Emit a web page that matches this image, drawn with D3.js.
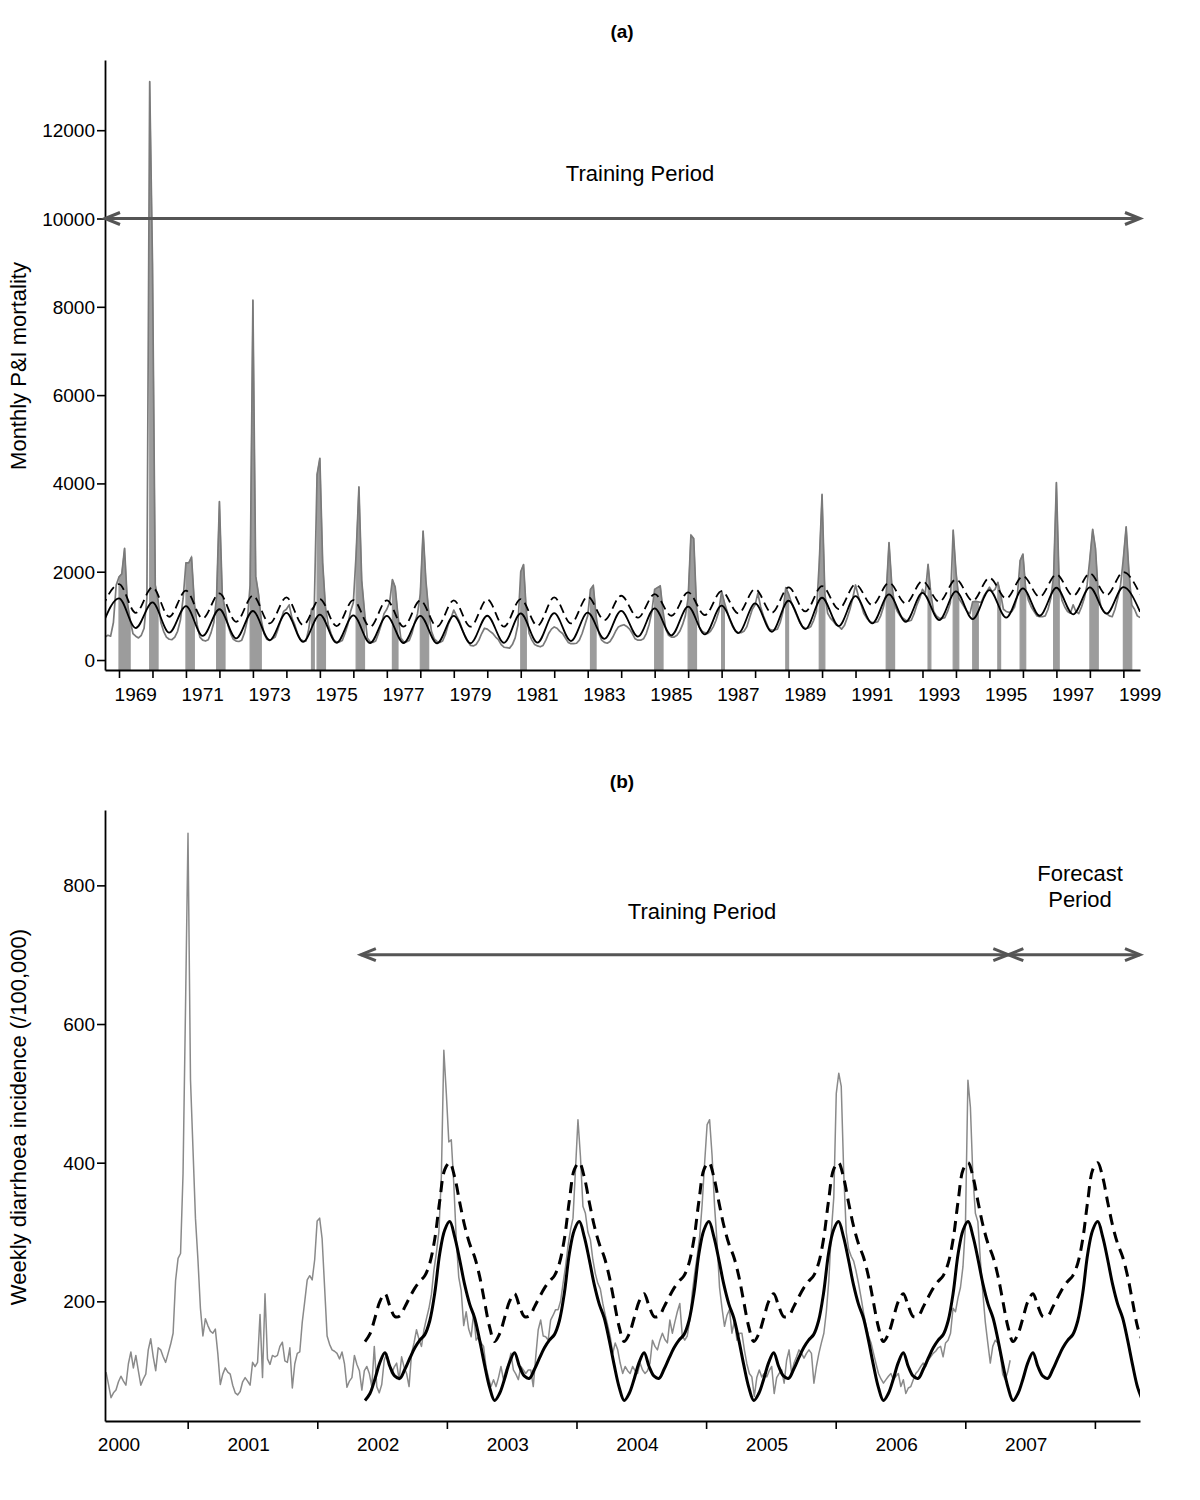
<!DOCTYPE html>
<html><head><meta charset="utf-8">
<script src="https://cdn.jsdelivr.net/npm/d3@7"></script>
<style>body{margin:0;background:#fff} svg text{font-family:"Liberation Sans",Arial,Helvetica,sans-serif;fill:#000}</style>
</head><body><svg id="c" width="1200" height="1500"></svg>
<script>
// ---------------- Panel (a): monthly P&I mortality ----------------
const piStart = "1968-08";
const piMonthly = [
 520,560,540,850,1700,1880,1950,2530,1300,900,600,540,      // 1968-69
 500,560,720,1400,13100,9000,1700,1350,850,650,520,470,     // 1969-70
 460,520,650,900,1400,2200,2200,2330,1300,800,520,450,      // 1970-71
 430,460,620,850,1450,3590,1500,1150,800,600,470,430,       // 1971-72
 420,450,620,900,1700,8150,1900,1500,900,600,470,440,       // 1972-73
 480,520,700,900,1100,1150,1250,950,800,600,470,430,        // 1973-74
 430,700,1150,1200,4200,4570,2200,1200,800,600,450,410,     // 1974-75
 410,440,600,800,1100,1300,2400,3920,1800,1100,500,420,     // 1975-76
 400,430,600,800,1050,1150,1300,1820,1650,1000,500,420,     // 1976-77
 410,440,600,850,1050,1500,2920,1800,1100,650,480,420,      // 1977-78
 400,430,580,800,950,1130,1000,880,700,550,430,330,         // 1978-79
 320,350,450,600,720,700,650,600,520,460,350,290,           // 1979-80
 280,270,350,500,800,2000,2160,1100,600,450,350,320,        // 1980-81
 300,330,450,600,700,750,720,650,600,500,400,370,           // 1981-82
 370,380,450,600,800,1000,1600,1690,1000,600,450,400,       // 1982-83
 380,420,520,650,750,780,800,760,700,600,480,450,           // 1983-84
 450,480,600,800,1100,1600,1640,1680,1100,700,560,520,      // 1984-85
 520,560,650,800,1000,1400,2830,2750,1200,750,650,620,      // 1985-86
 600,650,750,900,1100,1560,1300,1100,900,750,650,620,       // 1986-87
 620,650,750,950,1150,1250,1515,1200,1000,850,700,680,      // 1987-88
 680,700,850,1100,1640,1500,1300,1150,1000,850,760,720,     // 1988-89
 720,760,900,1100,2200,3750,1500,1060,950,880,800,760,      // 1989-90
 700,780,950,1150,1400,1700,1450,1250,1050,950,880,850,     // 1990-91
 850,870,1000,1200,1500,2660,1700,1250,1100,1000,950,900,   // 1991-92
 880,900,1050,1250,1400,1600,1500,2165,1500,1100,1000,950,  // 1992-93
 940,960,1100,1300,2940,2000,1400,1300,1200,1100,1050,1320, // 1993-94
 1330,1320,1300,1450,1550,1650,1550,1600,1760,1500,1150,1100, // 1994-95
 1080,1100,1200,1450,2250,2400,1600,1350,1200,1100,1000,980,  // 1995-96
 980,1000,1150,1400,1900,4020,1700,1350,1200,1100,1060,1250,  // 1996-97
 1100,1050,1200,1400,1700,2300,2960,2530,1500,1200,1100,1050, // 1997-98
 1000,980,1150,1400,1700,2300,3016,2000,1250,1150,1000,960    // 1998-99
];
// seasonal baseline: January peaks (1969..1999) and July troughs (1968..1999)
const piBaselineJan = [1396,1305,1220,1150,1110,1070,1030,1010,1000,1000,1000,1003,1056,1060,1072,1115,1170,1210,1230,1282,1342,1410,1448,1487,1523,1554,1584,1622,1637,1645,1650];
const piBaselineJul = [790,725,620,545,490,450,410,390,385,385,380,380,390,395,430,480,530,560,580,610,640,700,770,830,867,905,928,958,1003,1035,1050,1093];
const piThresholdJan = [1720,1645,1570,1508,1456,1418,1380,1357,1350,1350,1350,1373,1380,1418,1433,1456,1493,1531,1560,1606,1644,1674,1712,1750,1787,1825,1862,1900,1938,1960,1990];
const piThresholdJul = [1200,1070,980,943,867,830,792,770,755,755,755,755,755,778,830,905,958,1003,1018,1056,1070,1100,1154,1244,1282,1320,1342,1395,1433,1456,1470,1490];
const piEpidemics = [
 ["1969-01","1969-05"],["1969-12","1970-03"],["1971-01","1971-04"],["1971-12","1972-03"],
 ["1972-12","1973-04"],["1974-10","1974-11"],["1974-12","1975-03"],["1976-02","1976-05"],
 ["1977-03","1977-05"],["1978-01","1978-04"],["1981-01","1981-03"],["1983-02","1983-04"],
 ["1985-01","1985-04"],["1986-01","1986-04"],["1987-01","1987-02"],["1988-12","1989-01"],
 ["1989-12","1990-02"],["1991-12","1992-03"],["1993-03","1993-04"],["1993-12","1994-02"],
 ["1994-07","1994-09"],["1995-04","1995-05"],["1995-12","1996-02"],["1996-12","1997-02"],
 ["1998-01","1998-04"],["1999-01","1999-04"]
];
const piYTicks = [0,2000,4000,6000,8000,10000,12000];
const piYearTicks = [1969,1970,1971,1972,1973,1974,1975,1976,1977,1978,1979,1980,1981,1982,1983,1984,1985,1986,1987,1988,1989,1990,1991,1992,1993,1994,1995,1996,1997,1998,1999];
const piYearLabels = [1969,1971,1973,1975,1977,1979,1981,1983,1985,1987,1989,1991,1993,1995,1997,1999];
const piTrainingArrow = {from: 1968.582, to: 1999.497, level: 10000};

// ---------------- Panel (b): weekly diarrhoea incidence ----------------
const diaStart = 1999.9;            // first week (decimal year)
const diaStepWeeks = 7/365.25;
const diaWeekly = [
 98,80,61,68,72,84,92,85,79,110, 127,104,122,100,79,88,95,130,146,120,
 100,133,130,120,112,125,138,154,230,262, 269,384,624,875,520,420,320,260,190,150,
 175,165,157,154,160,125,80,95,104,98, 95,79,68,65,70,84,90,85,79,112,
 106,112,181,90,211,117,109,122,120,122, 135,141,114,112,133,75,110,125,127,170,
 200,231,237,231,260,316,320,290,220,150, 138,130,128,125,117,127,110,76,85,90,
 122,109,100,
 72,100,106,96,77,135,77,68,80,115, 125,110,96,105,111,87,120,105,96,77,
 125,140,159,145,135,159,175,190,210,245, 270,300,380,562,500,430,433,370,290,235,
 215,165,185,160,149,183,144,149,140,135, 105,90,77,87,77,90,106,87,101,110,
 125,101,95,87,106,101,96,101,101,77, 120,159,173,150,149,144,173,180,188,188,
 200,226,250,280,303,320,390,462,409,337, 327,300,289,260,240,226,218,197,180,165,
 149,125,140,130,111,96,106,100,96,106, 100,96,111,101,96,100,111,144,135,130,
 144,154,145,140,173,154,170,185,197,150, 144,150,173,212,240,265,293,340,400,455,
 462,410,337,285,220,190,164,180,188,154, 173,144,154,
 154,130,110,96,91,63,90,101,91,96, 91,100,106,67,90,96,101,82,115,130,
 96,111,120,130,125,118,125,130,125,82, 106,125,140,154,185,230,300,350,500,529,
 510,385,300,275,265,258,243,225,205,183, 165,150,140,125,110,96,88,82,87,92,
 96,87,92,96,77,87,67,75,77,87, 96,100,106,111,106,115,120,125,128,133,
 135,120,140,144,154,190,185,205,220,250, 310,519,480,380,327,315,260,212,170,140,
 111,135,144,140,125,95,87,98,115
];
const diaFitStart = 2001.898;       // first fortnight of fitted curves
const diaFitStep = 1/26;
const diaBaseline = [
 57,67,88,112,126,106,92,89,102,118,133,144,152,172,212,269,303,315,293,260,224,196,176,144,108,76,
 57,67,88,112,126,106,92,89,102,118,133,144,152,172,212,269,303,315,293,260,224,196,176,144,108,76,
 57,67,88,112,126,106,92,89,102,118,133,144,152,172,212,269,303,315,293,260,224,196,176,144,108,76,
 57,67,88,112,126,106,92,89,102,118,133,144,152,172,212,269,303,315,293,260,224,196,176,144,108,76,
 57,67,88,112,126,106,92,89,102,118,133,144,152,172,212,269,303,315,293,260,224,196,176,144,108,76,
 57,67,88,112,126,106,92,89,102,118,133,144,152,172,212,269,303,315,293,260,224,196,176,144,108,76,
 57
];
const diaThreshold = [
 142,153,176,200,211,193,178,179,192,206,219,229,237,255,290,345,390,400,379,343,309,283,264,236,199,163,
 142,153,176,200,211,193,178,179,192,206,219,229,237,255,290,345,390,400,379,343,309,283,264,236,199,163,
 142,153,176,200,211,193,178,179,192,206,219,229,237,255,290,345,390,400,379,343,309,283,264,236,199,163,
 142,153,176,200,211,193,178,179,192,206,219,229,237,255,290,345,390,400,379,343,309,283,264,236,199,163,
 142,153,176,200,211,193,178,179,192,206,219,229,237,255,290,345,390,400,379,343,309,283,264,236,199,163,
 142,153,176,200,211,193,178,179,192,206,219,229,237,255,290,345,390,400,379,343,309,283,264,236,199,163,
 142
];
const diaYTicks = [200,400,600,800];
const diaSeasonTicks = [2000.53,2001.53,2002.53,2003.53,2004.53,2005.53,2006.53,2007.53];
const diaYearLabels = [2000,2001,2002,2003,2004,2005,2006,2007];
const diaTrainingArrow = {from: 2001.866, to: 2006.862, level: 700};
const diaForecastArrow = {from: 2006.862, to: 2007.878, level: 700};

// ---------------- drawing ----------------
const svg = d3.select("#c");
const monthT = s => { const [y,m] = s.split("-").map(Number); return y + (m-1)/12; };
const ARROW = "#555555";

function styleAxis(g){
  g.select(".domain").attr("stroke","#000").attr("stroke-width",1.8);
  g.selectAll(".tick line").attr("stroke","#000").attr("stroke-width",1.6);
  g.selectAll(".tick text").remove();
}
function drawArrow(g, x1, x2, y){
  g.append("line").attr("x1",x1).attr("x2",x2).attr("y1",y).attr("y2",y)
    .attr("stroke",ARROW).attr("stroke-width",3);
  const hl = 15, hw = 6;
  g.append("path").attr("d",`M${x1+hl},${y-hw}L${x1},${y}L${x1+hl},${y+hw}`)
    .attr("fill","none").attr("stroke",ARROW).attr("stroke-width",3);
  g.append("path").attr("d",`M${x2-hl},${y-hw}L${x2},${y}L${x2-hl},${y+hw}`)
    .attr("fill","none").attr("stroke",ARROW).attr("stroke-width",3);
}

// ----- Panel A -----
const xA = d3.scaleLinear().domain([1968.582, 1999.497]).range([105, 1140]);
const yA = d3.scaleLinear().domain([-226, 13590]).range([670, 60]);
const t0A = monthT(piStart);
const obsA = piMonthly.map((v,i)=>({t: t0A + i/12, v}));

svg.append("defs").html(
  '<clipPath id="clipA"><rect x="105" y="55" width="1035" height="615"/></clipPath>'+
  '<clipPath id="clipB"><rect x="105" y="805" width="1035" height="616"/></clipPath>');

const gA = svg.append("g");
const plotA = gA.append("g").attr("clip-path","url(#clipA)");

const areaA = d3.area().x(d=>xA(d.t)).y0(yA.range()[0]).y1(d=>yA(d.v));
piEpidemics.forEach(([s,e])=>{
  const ts = monthT(s)-1e-6, te = monthT(e)+1e-6;
  const seg = obsA.filter(d=>d.t>=ts && d.t<=te);
  plotA.append("path").datum(seg).attr("d",areaA)
    .attr("fill","#9c9c9c").attr("stroke","#9c9c9c").attr("stroke-width",1.2);
});

const lineA = d3.line().x(d=>xA(d.t)).y(d=>yA(d.v));
plotA.append("path").datum(obsA).attr("d",lineA)
  .attr("fill","none").attr("stroke","#7a7a7a").attr("stroke-width",1.7).attr("stroke-linejoin","round");

function seasonalPoints(janVals, julVals, firstJan, firstJul){
  const pts = [];
  julVals.forEach((v,i)=>pts.push({t: firstJul + i + 0.5, v}));
  janVals.forEach((v,i)=>pts.push({t: firstJan + i, v}));
  return pts.sort((a,b)=>a.t-b.t);
}
const baseA = seasonalPoints(piBaselineJan, piBaselineJul, 1969, 1968);
const thrA = seasonalPoints(piThresholdJan, piThresholdJul, 1969, 1968);
const smoothA = d3.line().x(d=>xA(d.t)).y(d=>yA(d.v)).curve(d3.curveMonotoneX);
plotA.append("path").datum(baseA).attr("d",smoothA)
  .attr("fill","none").attr("stroke","#000").attr("stroke-width",1.8);
plotA.append("path").datum(thrA).attr("d",smoothA)
  .attr("fill","none").attr("stroke","#000").attr("stroke-width",1.8).attr("stroke-dasharray","9,5");

// axes A
const axYA = gA.append("g").attr("transform","translate(105,0)")
  .call(d3.axisLeft(yA).tickValues(piYTicks).tickSize(8).tickSizeOuter(0));
styleAxis(axYA);
piYTicks.forEach(v=>gA.append("text").attr("x",95).attr("y",yA(v)+7)
  .attr("text-anchor","end").attr("font-size",19).text(v));
const axXA = gA.append("g").attr("transform","translate(0,670)")
  .call(d3.axisBottom(xA).tickValues(piYearTicks).tickSize(8).tickSizeOuter(0));
styleAxis(axXA);
piYearLabels.forEach(y=>gA.append("text").attr("x",xA(y+0.5)).attr("y",701)
  .attr("text-anchor","middle").attr("font-size",19).text(y));

drawArrow(gA, xA(piTrainingArrow.from), xA(piTrainingArrow.to), yA(piTrainingArrow.level));
gA.append("text").attr("x",640).attr("y",181).attr("text-anchor","middle")
  .attr("font-size",22).text("Training Period");
gA.append("text").attr("x",622).attr("y",38).attr("text-anchor","middle")
  .attr("font-size",19).attr("font-weight","bold").text("(a)");
gA.append("text").attr("transform","translate(26,366) rotate(-90)")
  .attr("text-anchor","middle").attr("font-size",22).text("Monthly P&I mortality");

// ----- Panel B -----
const xB = d3.scaleLinear().domain([1999.892, 2007.878]).range([105, 1140]);
const yB = d3.scaleLinear().domain([27.4, 908.7]).range([1421, 810]);
const gB = svg.append("g");
const plotB = gB.append("g").attr("clip-path","url(#clipB)");

const obsB = diaWeekly.map((v,i)=>({t: diaStart + i*diaStepWeeks, v}));
const lineB = d3.line().x(d=>xB(d.t)).y(d=>yB(d.v));
plotB.append("path").datum(obsB).attr("d",lineB)
  .attr("fill","none").attr("stroke","#8a8a8a").attr("stroke-width",1.5).attr("stroke-linejoin","round");

const baseB = diaBaseline.map((v,i)=>({t: diaFitStart + i*diaFitStep, v}));
const thrB = diaThreshold.map((v,i)=>({t: diaFitStart + i*diaFitStep, v}));
const smoothB = d3.line().x(d=>xB(d.t)).y(d=>yB(d.v)).curve(d3.curveCatmullRom);
plotB.append("path").datum(thrB).attr("d",smoothB)
  .attr("fill","none").attr("stroke","#000").attr("stroke-width",3).attr("stroke-dasharray","11,7");
plotB.append("path").datum(baseB).attr("d",smoothB)
  .attr("fill","none").attr("stroke","#000").attr("stroke-width",3);

const axYB = gB.append("g").attr("transform","translate(105,0)")
  .call(d3.axisLeft(yB).tickValues(diaYTicks).tickSize(8).tickSizeOuter(0));
styleAxis(axYB);
diaYTicks.forEach(v=>gB.append("text").attr("x",95).attr("y",yB(v)+7)
  .attr("text-anchor","end").attr("font-size",19).text(v));
const axXB = gB.append("g").attr("transform","translate(0,1421)")
  .call(d3.axisBottom(xB).tickValues(diaSeasonTicks).tickSize(8).tickSizeOuter(0));
styleAxis(axXB);
diaYearLabels.forEach(y=>gB.append("text").attr("x",xB(y)).attr("y",1451)
  .attr("text-anchor","middle").attr("font-size",19).text(y));

drawArrow(gB, xB(diaTrainingArrow.from), xB(diaTrainingArrow.to), yB(diaTrainingArrow.level));
drawArrow(gB, xB(diaForecastArrow.from), xB(diaForecastArrow.to), yB(diaForecastArrow.level));
gB.append("text").attr("x",702).attr("y",919).attr("text-anchor","middle")
  .attr("font-size",22).text("Training Period");
gB.append("text").attr("x",1080).attr("y",881).attr("text-anchor","middle")
  .attr("font-size",22).text("Forecast");
gB.append("text").attr("x",1080).attr("y",907).attr("text-anchor","middle")
  .attr("font-size",22).text("Period");
gB.append("text").attr("x",622).attr("y",788).attr("text-anchor","middle")
  .attr("font-size",19).attr("font-weight","bold").text("(b)");
gB.append("text").attr("transform","translate(26,1117) rotate(-90)")
  .attr("text-anchor","middle").attr("font-size",22).text("Weekly diarrhoea incidence (/100,000)");
</script></body></html>
